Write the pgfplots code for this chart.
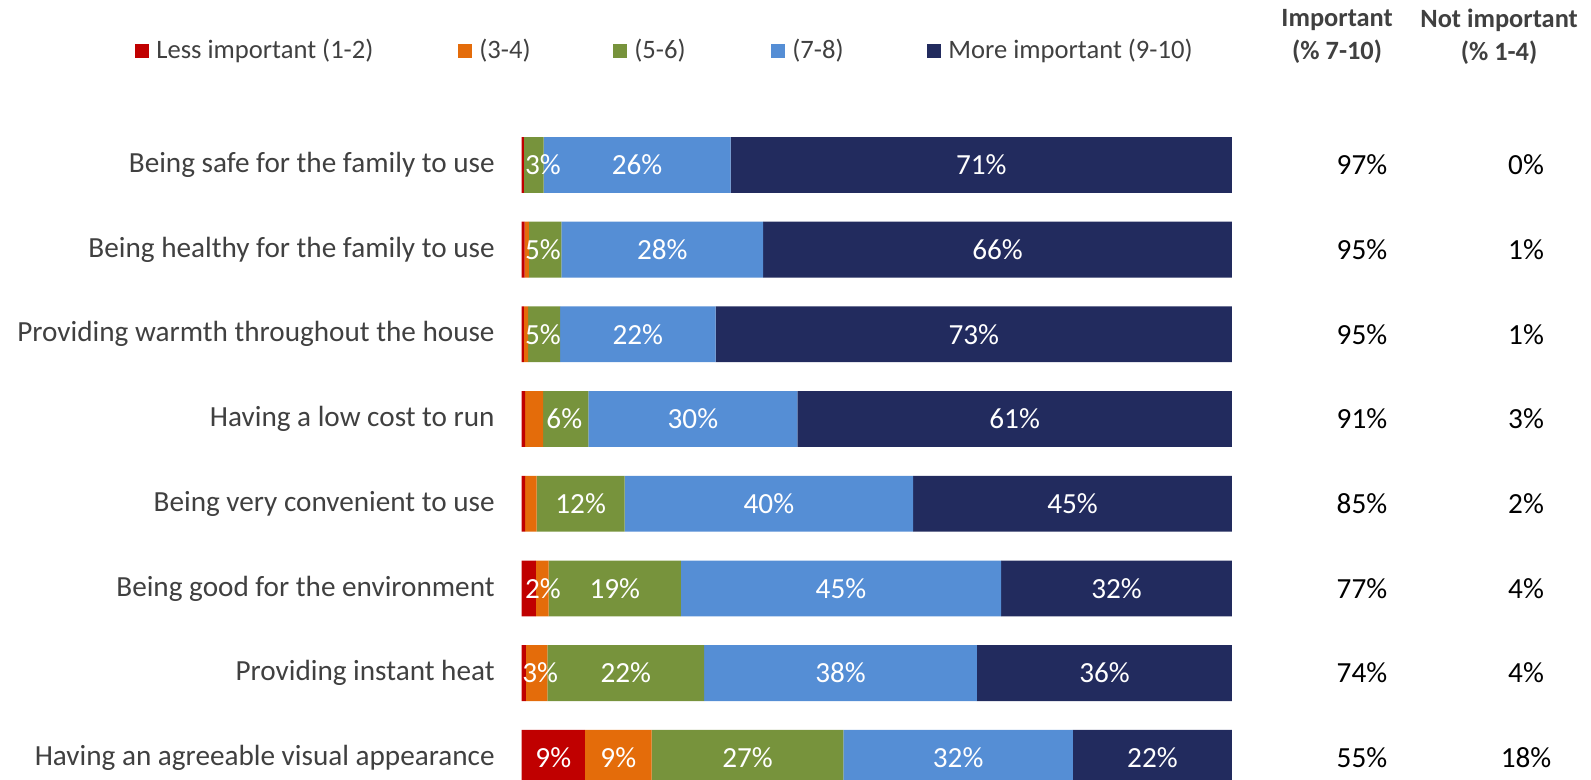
\documentclass[border=0pt]{standalone}
\usepackage{pgfplots}
\usepackage{pgfplotstable}
\pgfplotsset{compat=1.18}
\usepackage{fontspec}
\setmainfont{Carlito}
\definecolor{cRed}{HTML}{C00000}
\definecolor{cOrange}{HTML}{E46C0A}
\definecolor{cGreen}{HTML}{77933C}
\definecolor{cBlue}{HTML}{558ED5}
\definecolor{cNavy}{HTML}{222B5E}
\definecolor{txt}{HTML}{404040}

% segment shares (%), rows top to bottom
\pgfplotstableread{
row a   b   c    d    e
0   0.3 0.0 2.8  26.3 70.6
1   0.4 0.6 4.6  28.4 66.0
2   0.3 0.6 4.5  21.9 72.7
3   0.5 2.5 6.4  29.4 61.2
4   0.5 1.6 12.4 40.6 44.9
5   2.0 1.8 18.6 45.1 32.5
6   0.6 3.0 22.1 38.4 35.9
7   8.9 9.4 27.0 32.3 22.4
}\chartdata

% data labels: position along bar, row, label
\pgfplotstableread{
x     y  l
3.0   0  3
16.25 0  26
64.7  0  71
3.0   1  5
19.8  1  28
67.0  1  66
3.0   2  5
16.35 2  22
63.65 2  73
6.0   3  6
24.1  3  30
69.4  3  61
8.3   4  12
34.8  4  40
77.55 4  45
3.0   5  2
13.1  5  19
44.95 5  45
83.75 5  32
2.6   6  3
14.65 6  22
44.9  6  38
82.05 6  36
4.45  7  9
13.6  7  9
31.8  7  27
61.45 7  32
88.8  7  22
}\labeldata

\tikzset{rnum/.style={font=\fontsize{14.6}{17}\selectfont, text=black},
  hdr/.style={align=center, inner sep=0pt, font=\bfseries\fontsize{13.2}{16.5}\selectfont, text=txt}}
\pgfplotsset{frame/.style={
  scale only axis,
  width=355.15pt, height=390pt,
  xmin=0, xmax=100,
  ymin=-1.947, ymax=7.262,
  y dir=reverse}}

\begin{document}
\begin{tikzpicture}
\begin{axis}[
  frame,
  xbar stacked,
  bar width=27.9pt,
  clip mode=individual,
  axis line style={draw=none},
  tick style={draw=none},
  xtick=\empty,
  ytick={0,...,7},
  yticklabels={Being safe for the family to use,
    Being healthy for the family to use,
    Providing warmth throughout the house,
    Having a low cost to run,
    Being very convenient to use,
    Being good for the environment,
    Providing instant heat,
    Having an agreeable visual appearance},
  yticklabel style={xshift=-10pt, font=\fontsize{14.6}{17}\selectfont, text=txt},
  legend columns=5,
  legend image code/.code={\fill[#1] (0pt,-3.5pt) rectangle (7pt,3.5pt);},
  legend style={at={(axis description cs:-0.5444,0.935)}, anchor=west,
    draw=none, fill=none, inner sep=0pt,
    nodes={inner sep=0pt, font=\fontsize{13.3}{15}\selectfont, text=txt},
    /tikz/every odd column/.append style={column sep=3.5pt}},
]
\addplot[fill=cRed, draw=none] table[x=a, y=row] {\chartdata};
\addplot[fill=cOrange, draw=none] table[x=b, y=row] {\chartdata};
\addplot[fill=cGreen, draw=none] table[x=c, y=row] {\chartdata};
\addplot[fill=cBlue, draw=none] table[x=d, y=row] {\chartdata};
\addplot[fill=cNavy, draw=none] table[x=e, y=row] {\chartdata};
\legend{\makebox[151pt][l]{Less important (1-2)},
  \makebox[67pt][l]{(3-4)},
  \makebox[68.5pt][l]{(5-6)},
  \makebox[67.5pt][l]{(7-8)},
  More important (9-10)}

\node[hdr] at (axis cs:114.8,-1.516) {Important\\(\% 7-10)};
\node[hdr] at (axis cs:137.6,-1.516) {Not important\\(\% 1-4)};

\node[rnum] at (axis cs:118.3,0) {97\%}; \node[rnum] at (axis cs:141.4,0) {0\%};
\node[rnum] at (axis cs:118.3,1) {95\%}; \node[rnum] at (axis cs:141.4,1) {1\%};
\node[rnum] at (axis cs:118.3,2) {95\%}; \node[rnum] at (axis cs:141.4,2) {1\%};
\node[rnum] at (axis cs:118.3,3) {91\%}; \node[rnum] at (axis cs:141.4,3) {3\%};
\node[rnum] at (axis cs:118.3,4) {85\%}; \node[rnum] at (axis cs:141.4,4) {2\%};
\node[rnum] at (axis cs:118.3,5) {77\%}; \node[rnum] at (axis cs:141.4,5) {4\%};
\node[rnum] at (axis cs:118.3,6) {74\%}; \node[rnum] at (axis cs:141.4,6) {4\%};
\node[rnum] at (axis cs:118.3,7) {55\%}; \node[rnum] at (axis cs:141.4,7) {18\%};
\end{axis}
\begin{axis}[
  frame,
  hide axis,
  clip=false,
]
\addplot[draw=none, mark=none, point meta=explicit symbolic,
  nodes near coords={\pgfplotspointmeta\%},
  every node near coord/.style={anchor=center, inner sep=0pt, text=white,
    font=\fontsize{14.6}{17}\selectfont}]
  table[x=x, y=y, meta=l] {\labeldata};
\end{axis}
% page margins as in the reference (invisible)
\path (current axis.south west) ++(-260.85pt,0pt) rectangle ++(795.5pt,390pt);
\end{tikzpicture}
\end{document}
